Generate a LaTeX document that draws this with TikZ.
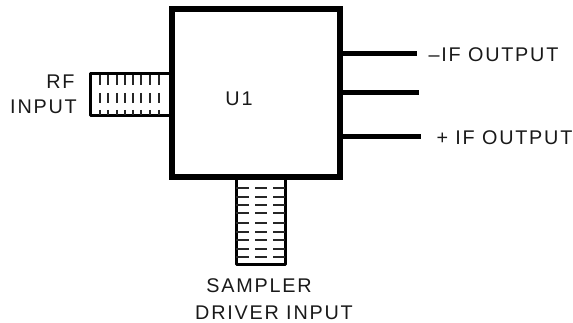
\documentclass[tikz,border=0pt]{standalone}
\usepackage{fontspec}
\setmainfont[LetterSpace=9]{Liberation Sans}
\tikzset{
  lbl/.style={inner sep=0pt,outer sep=0pt,anchor=center,text=black!90,font=\fontsize{19.8}{22}\selectfont},
  boxline/.style={draw=black,line width=5.5pt,minimum width=168pt,minimum height=168pt,inner sep=0pt},
  lead/.style={draw=black,line width=5pt},
  port/.style={draw=black,line width=3pt,line join=round},
  hatch/.style={draw=black!85,line width=2pt}
}
\begin{document}
\begin{tikzpicture}[x=1pt,y=-1pt]
\useasboundingbox (0,0) rectangle (573,323);
\node[boxline] (box) at (256,93) {};
\node[lbl] (u1) at (239,99) {U1};
% RF port
\coordinate (rfa) at (box.west |- 0,74);
\coordinate (rfb) at (box.west |- 0,116);
\draw[port] (rfa) -- (90,74) -- (90,116) -- (rfb);
\foreach \x in {100,108,116.5,124.5,133,141,150,159}{
  \draw[hatch] (\x,75) -- (\x,85);
  \draw[hatch] (\x,93) -- (\x,103);
  \draw[hatch] (\x,110) -- (\x,115);
}
% Driver port
\coordinate (dra) at (box.south -| 236,0);
\coordinate (drb) at (box.south -| 285,0);
\draw[port] (dra) -- (236,264) -- (285,264) -- (drb);
\foreach \y in {188,197,205,213,223,232,240,249,257}{
  \draw[hatch] (236,\y) -- (249,\y);
  \draw[hatch] (255,\y) -- (267,\y);
  \draw[hatch] (273,\y) -- (285,\y);
}
% Leads
\coordinate (o1) at (417,53.5);
\coordinate (o2) at (419,93);
\coordinate (o3) at (421,137);
\draw[lead] (box.east |- o1) -- (o1);
\draw[lead] (box.east |- o2) -- (o2);
\draw[lead] (box.east |- o3) -- (o3);
% Labels
\node[lbl] (rf) at (60.5,81.5) {RF};
\node[lbl] (inp) at (43.5,107) {INPUT};
\node[lbl] (neg) at (493.5,55) {--IF OUTPUT};
\node[lbl] (pos) at (504.5,137.5) {+ IF OUTPUT};
\node[lbl] (samp) at (259,285.5) {SAMPLER};
\node[lbl] (drv) at (274,312.5) {DRIVER INPUT};
\end{tikzpicture}
\end{document}
